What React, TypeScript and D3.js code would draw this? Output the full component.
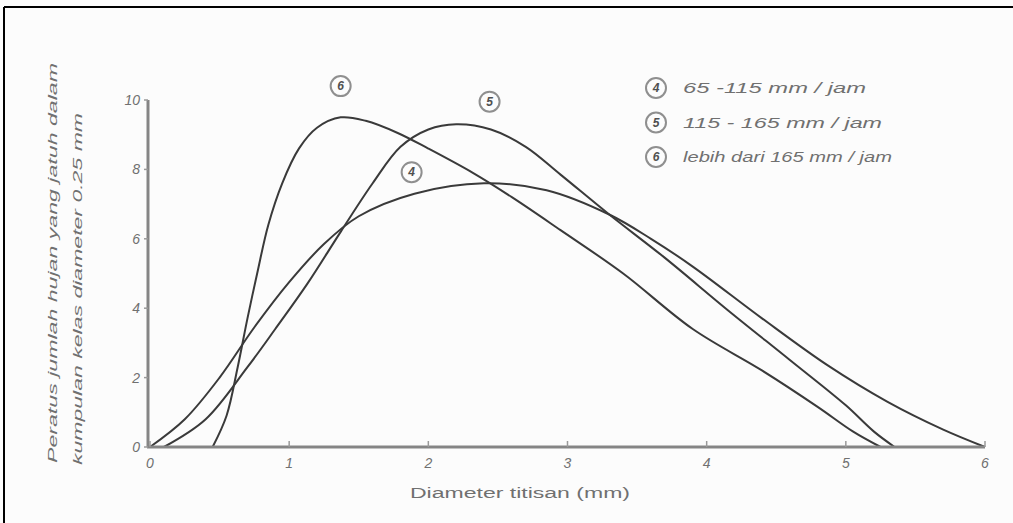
import React from 'react';
import * as d3 from 'd3';

// values (diameter mm, percent)
const xTicks = [0, 1, 2, 3, 4, 5, 6];
const yTicks = [0, 2, 4, 6, 8, 10];

const curve4: [number, number][] = [
  [0, 0], [0.25, 0.8], [0.5, 2.0], [0.75, 3.45], [1.0, 4.75], [1.25, 5.85],
  [1.5, 6.65], [1.9, 7.3], [2.4, 7.6], [2.85, 7.4], [3.3, 6.7], [3.6, 6.0],
  [3.9, 5.2], [4.4, 3.7], [4.87, 2.35], [5.3, 1.3], [5.7, 0.5], [6, 0],
];
const curve5: [number, number][] = [
  [0.1, 0], [0.4, 0.8], [0.7, 2.3], [0.9, 3.4], [1.13, 4.7], [1.37, 6.2],
  [1.6, 7.6], [1.8, 8.65], [2.0, 9.15], [2.2, 9.3], [2.45, 9.15], [2.7, 8.65],
  [2.95, 7.85], [3.3, 6.7], [3.7, 5.45], [4.15, 3.95], [4.6, 2.5],
  [5.0, 1.2], [5.2, 0.45], [5.35, 0],
];
const curve6: [number, number][] = [
  [0.45, 0], [0.55, 0.9], [0.63, 2.3], [0.7, 3.7], [0.77, 5.0], [0.85, 6.4],
  [0.95, 7.6], [1.07, 8.6], [1.2, 9.2], [1.37, 9.5], [1.55, 9.4], [1.78, 9.05],
  [2.0, 8.6], [2.32, 7.9], [2.6, 7.2], [2.95, 6.25], [3.4, 5.0], [3.9, 3.4],
  [4.4, 2.2], [4.8, 1.15], [5.05, 0.45], [5.25, 0],
];

const seriesKeys = ['4', '5', '6'];
const legendLabels = ['65 -115 mm / jam', '115 - 165 mm / jam', 'lebih dari 165 mm / jam'];
const curveTags: [string, number, number][] = [
  ['6', 1.37, 10.4],
  ['5', 2.44, 9.95],
  ['4', 1.88, 7.92],
];

const W = 1013;
const H = 523;
const font = "'Liberation Sans', Arial, sans-serif";
const textGrey = '#707070';

const x = d3.scaleLinear().domain([0, 6]).range([150, 985]);
const y = d3.scaleLinear().domain([0, 10]).range([447, 100]);

const line = d3
  .line<[number, number]>()
  .x((d) => x(d[0]))
  .y((d) => Math.min(y(0), y(d[1])))
  .curve(d3.curveCatmullRom.alpha(0.5));

const Tag = ({ cx, cy, label }: { cx: number; cy: number; label: string }) => (
  <g>
    <circle cx={cx} cy={cy} r={10} fill="none" stroke="#8f8f8f" strokeWidth={2} />
    <text
      x={cx}
      y={cy + 4}
      textAnchor="middle"
      fontSize={12}
      fontStyle="italic"
      fontWeight="bold"
      fill="#505050"
      fontFamily={font}
    >
      {label}
    </text>
  </g>
);

export default function App() {
  const curves = [curve4, curve5, curve6];
  const legendLengths = [183, 199, 209];

  return (
    <div style={{ position: 'fixed', left: 0, top: 0 }}>
      <svg width={W} height={H} style={{ display: 'block', background: '#fcfcfc' }}>
        {/* frame */}
        <line x1={4} y1={7} x2={W} y2={7} stroke="#000" strokeWidth={2} />
        <line x1={4} y1={7} x2={4} y2={H} stroke="#000" strokeWidth={2} />

        {/* curves */}
        {curves.map((c, i) => (
          <path
            key={seriesKeys[i]}
            d={line(c) || ''}
            fill="none"
            stroke="#3a3a3a"
            strokeWidth={2}
          />
        ))}

        {/* axes */}
        <line x1={x(0) - 2} y1={y(10)} x2={x(0) - 2} y2={y(0)} stroke="#858585" strokeWidth={3} />
        <line x1={x(0) - 3} y1={y(0)} x2={x(6)} y2={y(0)} stroke="#858585" strokeWidth={3} />
        {xTicks.map((t) => (
          <g key={'x' + t}>
            <line x1={x(t)} y1={y(0)} x2={x(t)} y2={y(0) - 6} stroke="#9a9a9a" strokeWidth={1.5} />
            <text
              x={x(t)}
              y={y(0) + 21}
              textAnchor="middle"
              fontSize={14}
              fontStyle="italic"
              fill={textGrey}
              fontFamily={font}
            >
              {t}
            </text>
          </g>
        ))}
        {yTicks.map((t) => (
          <g key={'y' + t}>
            <line x1={x(0) - 6} y1={y(t)} x2={x(0) - 2} y2={y(t)} stroke="#9a9a9a" strokeWidth={1.5} />
            <text
              x={x(0) - 10}
              y={y(t) + 5}
              textAnchor="end"
              fontSize={14}
              fontStyle="italic"
              fill={textGrey}
              fontFamily={font}
            >
              {t}
            </text>
          </g>
        ))}

        {/* axis titles */}
        <text
          x={410}
          y={498}
          fontSize={14}
          fill={textGrey}
          fontFamily={font}
          textLength={220}
          lengthAdjust="spacingAndGlyphs"
        >
          Diameter titisan (mm)
        </text>
        <text
          transform="translate(57,463) rotate(-90)"
          fontSize={13}
          fontStyle="italic"
          fill={textGrey}
          fontFamily={font}
          textLength={400}
          lengthAdjust="spacingAndGlyphs"
        >
          Peratus jumlah hujan yang jatuh dalam
        </text>
        <text
          transform="translate(82,465) rotate(-90)"
          fontSize={13}
          fontStyle="italic"
          fill={textGrey}
          fontFamily={font}
          textLength={352}
          lengthAdjust="spacingAndGlyphs"
        >
          kumpulan kelas diameter 0.25 mm
        </text>

        {/* circled curve tags */}
        {curveTags.map(([lab, tx, ty]) => (
          <Tag key={'t' + lab} cx={x(tx)} cy={y(ty)} label={lab} />
        ))}

        {/* legend */}
        {legendLabels.map((lab, i) => (
          <g key={lab}>
            <Tag cx={656} cy={88 + i * 34.5} label={seriesKeys[i]} />
            <text
              x={683}
              y={93 + i * 34.5}
              fontSize={14}
              fontStyle="italic"
              fill={textGrey}
              fontFamily={font}
              textLength={legendLengths[i]}
              lengthAdjust="spacingAndGlyphs"
            >
              {lab}
            </text>
          </g>
        ))}
      </svg>
    </div>
  );
}
